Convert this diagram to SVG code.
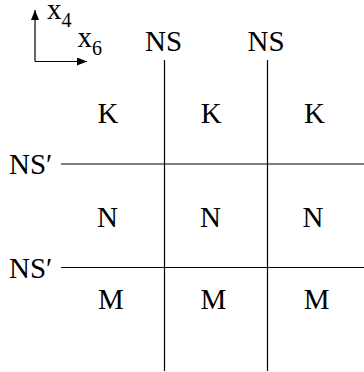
<svg xmlns="http://www.w3.org/2000/svg" width="364" height="372" viewBox="0 0 364 372">
<style>
text{font-family:'Liberation Serif','Times New Roman',Times,'DejaVu Serif',serif;font-size:29px;fill:#000}
.sub{font-size:20px}
.ln{stroke:#000;stroke-width:1.2;fill:none}
</style>
<defs>
<marker id="ah" markerWidth="10" markerHeight="8" refX="10" refY="4" orient="auto" markerUnits="userSpaceOnUse">
<path d="M0,0 L10,4 L0,8 Z" fill="#000"/>
</marker>
</defs>
<rect width="364" height="372" fill="#fff"/>
<g id="axes" font-family="Liberation Serif, serif">
<path class="ln" d="M35,61.5 L35,10" marker-end="url(#ah)"/>
<path class="ln" d="M35,61.5 L87,61.5" marker-end="url(#ah)"/>
<text x="47" y="19">x<tspan class="sub" dy="8">4</tspan></text>
<text x="77.5" y="46.5">x<tspan class="sub" dy="8">6</tspan></text>
</g>
<g id="connectors">
<line class="ln" x1="164.5" y1="60" x2="164.5" y2="371"/>
<line class="ln" x1="267.5" y1="60" x2="267.5" y2="371"/>
<line class="ln" x1="61" y1="164" x2="364" y2="164"/>
<line class="ln" x1="61" y1="267.5" x2="364" y2="267.5"/>
</g>
<g id="labels" font-family="Liberation Serif, serif">
<text x="163.5" y="51" text-anchor="middle">NS</text>
<text x="266" y="51" text-anchor="middle">NS</text>
<text x="9" y="173.5">NS′</text>
<text x="9" y="277.5">NS′</text>
</g>
<g id="cell-K1"><text x="97.5" y="123.3">K</text></g>
<g id="cell-K2"><text x="200.8" y="123.3">K</text></g>
<g id="cell-K3"><text x="304" y="123.3">K</text></g>
<g id="cell-N1"><text x="97" y="226.7">N</text></g>
<g id="cell-N2"><text x="200" y="226.7">N</text></g>
<g id="cell-N3"><text x="302.5" y="226.7">N</text></g>
<g id="cell-M1"><text x="98" y="309.3">M</text></g>
<g id="cell-M2"><text x="200.5" y="309.3">M</text></g>
<g id="cell-M3"><text x="303.8" y="309.3">M</text></g>
</svg>
